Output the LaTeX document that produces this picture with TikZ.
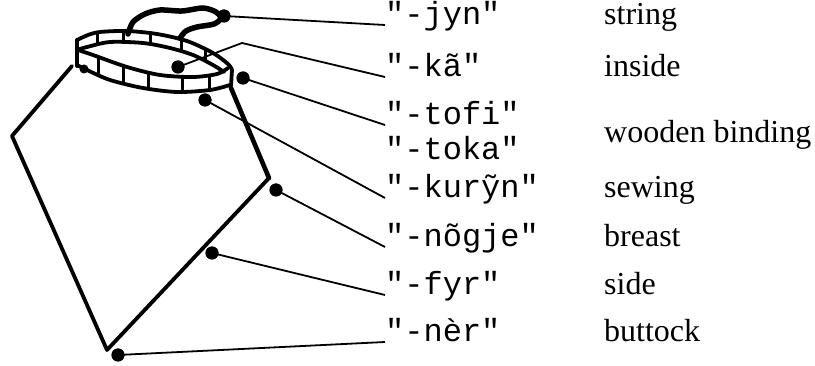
\documentclass[tikz,border=0pt]{standalone}
\usepackage{fontspec}
\setmainfont{Liberation Serif}
\newfontfamily\codefont{Liberation Mono}
\begin{document}
\begin{tikzpicture}[x=1pt,y=-1pt,
  outline/.style={line width=3.8pt, line join=round, line cap=round},
  rope/.style={line width=5.5pt, line join=round, line cap=round},
  divider/.style={line width=3pt},
  leader/.style={line width=1.8pt, line join=round},
  dot/.style={circle, fill=black, inner sep=0pt, minimum size=13pt},
  code/.style={anchor=base west, inner sep=0pt, font=\codefont\fontsize{32}{38}\selectfont},
  gloss/.style={anchor=base west, inner sep=0pt, font=\fontsize{32}{38}\selectfont}]
\useasboundingbox (0,0) rectangle (815,366);

% carrying string tied to the back of the rim
\draw[rope] plot[smooth] coordinates {(128,34) (133,22) (145,14) (160,10) (182,11) (203,8) (216,12) (221,18) (214,24) (197,27) (186,31) (180,38)};

% wooden rim: back band
\draw[outline] plot[smooth] coordinates {(77,40) (88,35) (100,32) (127,31) (157,34) (187,41) (213,53) (228,64) (232,70)};
\draw[outline] plot[smooth] coordinates {(80,49) (87,47) (110,42) (143,43) (170,48) (193,55) (213,65) (224,72)};
% front band
\draw[outline] plot[smooth] coordinates {(78,50) (93,55) (127,67) (160,75) (193,77) (217,74) (228,68)};
\draw[outline] plot[smooth] coordinates {(77,65) (87,70) (110,80) (143,88) (177,92) (210,90) (230,85)};
% band ends
\draw[outline] (77,40) -- (77,66);
\draw[outline] (232,70) -- (231,86);
% segments of the binding
\foreach \x/\a/\b in {97/33/44.5, 123/31/42.5, 150/33/44.5, 181/40/51.5, 205/49/60}
  \draw[divider] (\x,\a) -- (\x,\b);
\foreach \x/\a/\b in {98/57/75, 123/66/83, 148/72/89, 182/77/92, 209/76/90}
  \draw[divider] (\x,\a) -- (\x,\b);
\fill (84,69) circle (4.5);

% body of the bag
\draw[outline] (72,66) -- (12,136) -- (107,350) -- (269,178);
\draw[outline, line width=4.6pt] (269,178) -- (231,88);

% terms
\node[code] (c1) at (385,25) {"-jyn"};
\node[code] (c2) at (385,77) {"-kã"};
\node[code] (c3) at (385,125) {"-tofi"};
\node[code] (c4) at (385,160) {"-toka"};
\node[code] (c5) at (385,198) {"-kurỹn"};
\node[code] (c6) at (385,247) {"-nõgje"};
\node[code] (c7) at (385,295) {"-fyr"};
\node[code] (c8) at (385,342) {"-nèr"};

% glosses
\node[gloss] (g1) at (604,25) {string};
\node[gloss] (g2) at (604,77) {inside};
\node[gloss] (g3) at (604,143) {wooden binding};
\node[gloss] (g4) at (604,198) {sewing};
\node[gloss] (g5) at (604,247) {breast};
\node[gloss] (g6) at (604,295) {side};
\node[gloss] (g7) at (604,342) {buttock};

% marked points
\node[dot] (p1) at (224,16) {};
\node[dot] (p2) at (178,67) {};
\node[dot] (p3) at (243,78) {};
\node[dot] (p4) at (205,100) {};
\node[dot] (p5) at (276,190) {};
\node[dot] (p6) at (212,253) {};
\node[dot] (p7) at (118,355) {};
\coordinate (bend) at (242,43);

% leader lines
\draw[leader] (p1.center) -- (c1.base west);
\draw[leader] (p2.center) -- (bend) -- (c2.base west);
\draw[leader] (p3.center) -- (c3.base west);
\draw[leader] (p4.center) -- (c5.base west);
\draw[leader] (p5.center) -- (c6.base west);
\draw[leader] (p6.center) -- (c7.base west);
\draw[leader] (p7.center) -- (c8.base west);

% dots on top of the lines
\foreach \p in {p1,p2,p3,p4,p5,p6,p7}
  \fill (\p) circle (6.5);
\end{tikzpicture}
\end{document}
